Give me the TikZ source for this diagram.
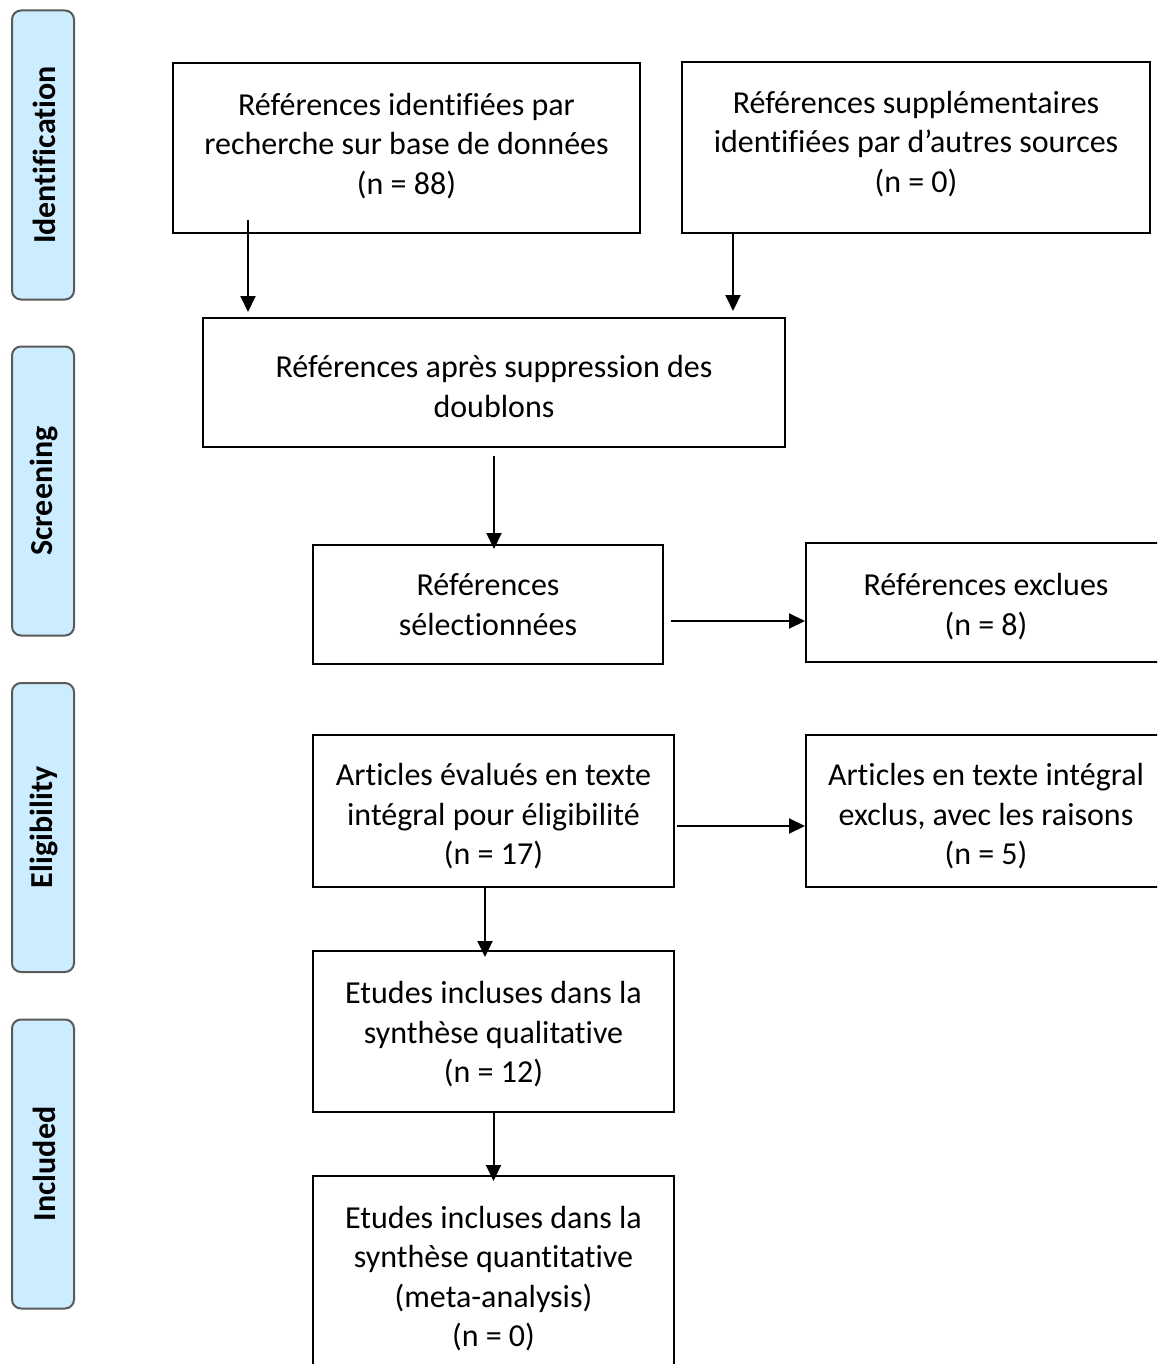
\documentclass[tikz,border=0pt]{standalone}
\usepackage{fontspec}
\setmainfont[Ligatures={NoCommon}]{Carlito}
\usetikzlibrary{arrows.meta}
\definecolor{sidefill}{RGB}{204,236,255}
\definecolor{sidedraw}{RGB}{90,90,90}
\tikzset{
  box/.style={draw=black, line width=2pt, rectangle, inner sep=0pt},
  txt/.style={inner sep=0pt, align=center, font=\fontsize{32}{39.5}\selectfont},
  side/.style={draw=sidedraw, fill=sidefill, line width=2pt, rounded corners=9pt,
    inner sep=0pt, minimum width=62pt, minimum height=289pt},
  sidetext/.style={rotate=90, font=\fontsize{32}{36}\selectfont\bfseries, inner sep=0pt},
  arr/.style={line width=2pt, -{Triangle[length=16pt,width=15pt]}}
}
\begin{document}
\begin{tikzpicture}[x=1pt,y=-1pt]
\useasboundingbox (0,0) rectangle (1157,1364);
\clip (0,0) rectangle (1157,1364);
\fill[white] (0,0) rectangle (1157,1364);

% side phase boxes
\node[side] (s1) at (43,155) {};
\node[sidetext] (t1) at ([xshift=1pt]s1.center) {Identification};
\node[side] (s2) at (43,491) {};
\node[sidetext] (t2) at ([xshift=1pt]s2.center) {Screening};
\node[side] (s3) at (43,827.5) {};
\node[sidetext] (t3) at ([xshift=1pt]s3.center) {Eligibility};
\node[side] (s4) at (43,1164) {};
\node[sidetext] (t4) at ([xshift=1pt]s4.center) {Included};

% main boxes
\node[box, minimum width=467pt, minimum height=170pt] (A) at (406.5,148) {};
\node[txt] (At) at ([yshift=2pt]A.center)
  {Références identifiées par\\recherche sur base de données\\(n = 88)};
\node[box, minimum width=468pt, minimum height=171pt] (B) at (916,147.5) {};
\node[txt] (Bt) at ([yshift=3.5pt]B.center)
  {Références supplémentaires\\identifiées par d’autres sources\\(n = 0)};
\node[box, minimum width=582pt, minimum height=129pt] (C) at (494,382.5) {};
\node[txt] (Ct) at ([yshift=-4pt]C.center)
  {Références après suppression des\\doublons};
\node[box, minimum width=350pt, minimum height=119pt] (D) at (488,604.5) {};
\node[txt] (Dt) at (D.center) {Références\\sélectionnées};
\node[box, minimum width=360pt, minimum height=119pt] (E) at (986,602.5) {};
\node[txt] (Et) at ([yshift=-4pt]E.center) {Références exclues\\(n = 8)};
\node[box, minimum width=361pt, minimum height=152pt] (F) at (493.5,811) {};
\node[txt] (Ft) at ([yshift=-5.5pt]F.center)
  {Articles évalués en texte\\intégral pour éligibilité\\(n = 17)};
\node[box, minimum width=360pt, minimum height=152pt] (G) at (986,811) {};
\node[txt] (Gt) at ([yshift=-5.5pt]G.center)
  {Articles en texte intégral\\exclus, avec les raisons\\(n = 5)};
\node[box, minimum width=361pt, minimum height=161pt] (H) at (493.5,1031.5) {};
\node[txt] (Ht) at ([yshift=-3pt]H.center)
  {Etudes incluses dans la\\synthèse qualitative\\(n = 12)};
\node[box, minimum width=361pt, minimum height=202pt] (I) at (493.5,1277) {};
\node[txt] (It) at ([yshift=-1.5pt]I.center)
  {Etudes incluses dans la\\synthèse quantitative\\(meta-analysis)\\(n = 0)};

% connectors
\draw[arr] ([xshift=76pt,yshift=14pt]A.south west) -- ([xshift=76pt,yshift=5pt]A.south west |- C.north);
\draw[arr] ([xshift=52pt]B.south west) -- ([xshift=52pt,yshift=6pt]B.south west |- C.north);
\draw[arr] ([yshift=-8pt]C.south) -- ([yshift=-5pt]C.south |- D.north);
\draw[arr] ([xshift=7pt,yshift=-16.5pt]D.east) -- ([yshift=-16.5pt]D.east -| E.west);
\draw[arr] ([xshift=2pt,yshift=-15pt]F.east) -- ([yshift=-15pt]F.east -| G.west);
\draw[arr] ([xshift=-8.5pt]F.south) -- ([xshift=-8.5pt,yshift=-7pt]F.south |- H.north);
\draw[arr] (H.south) -- ([yshift=-6pt]H.south |- I.north);
\end{tikzpicture}
\end{document}
